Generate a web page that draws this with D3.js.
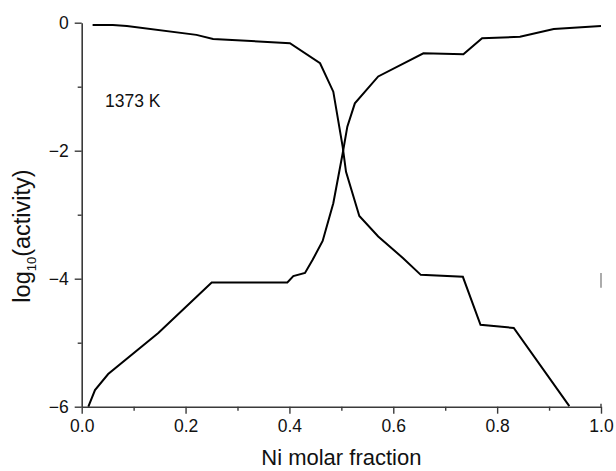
<!DOCTYPE html>
<html><head><meta charset="utf-8">
<script src="https://cdn.jsdelivr.net/npm/d3@7"></script>
<style>
html,body{margin:0;padding:0;background:#fff;}
svg{display:block;font-family:Arial,"Liberation Sans",sans-serif;}
</style></head>
<body>
<svg id="chart" width="616" height="471"></svg>
<script>
// Ni-rich curve (decreasing from 0)
const curveA_x = [0.021,0.060,0.087,0.221,0.253,0.401,0.459,0.4845,0.5026,0.509,0.5346,0.571,0.619,0.653,0.734,0.768,0.832,0.939];
const curveA_y = [-0.036,-0.036,-0.05,-0.19,-0.255,-0.32,-0.634,-1.078,-1.94,-2.33,-3.02,-3.34,-3.68,-3.94,-3.97,-4.72,-4.77,-5.99];
// increasing curve
const curveB_x = [0.0128,0.0256,0.051,0.1475,0.2503,0.396,0.4075,0.43,0.445,0.464,0.4845,0.5026,0.5115,0.526,0.571,0.658,0.735,0.771,0.844,0.909,1.0];
const curveB_y = [-6.0,-5.74,-5.49,-4.85,-4.06,-4.06,-3.96,-3.91,-3.70,-3.41,-2.82,-2.04,-1.625,-1.26,-0.84,-0.478,-0.494,-0.244,-0.219,-0.098,-0.05];
const xTicks = [0,0.2,0.4,0.6,0.8,1.0];
const xMinor = [0.1,0.3,0.5,0.7,0.9];
const yTicks = [0,-2,-4,-6];
const yMinor = [-1,-3,-5];
const stubX = [1.0,1.0];
const stubY = [-3.91,-4.14];
const annotation = "1373 K";
const xTitle = "Ni molar fraction";

const svg = d3.select("#chart");
const x = d3.scaleLinear().domain([0,1]).range([81.7,601]);
const y = d3.scaleLinear().domain([-6,0]).range([406.7,22.7]);
const axisColor = "#3a3a3a";

// x axis
const gx = svg.append("g").attr("transform",`translate(0,${y(-6)})`);
gx.call(d3.axisBottom(x).tickValues(xTicks).tickFormat(d3.format(".1f")).tickSize(7).tickPadding(6).tickSizeOuter(0));
gx.append("g").call(d3.axisBottom(x).tickValues(xMinor).tickFormat("").tickSize(4).tickSizeOuter(0))
  .select(".domain").remove();
// y axis
const gy = svg.append("g").attr("transform",`translate(${x(0)},0)`);
gy.call(d3.axisLeft(y).tickValues(yTicks).tickFormat(d3.format("d")).tickSize(7).tickPadding(6).tickSizeOuter(0));
gy.append("g").call(d3.axisLeft(y).tickValues(yMinor).tickFormat("").tickSize(4).tickSizeOuter(0))
  .select(".domain").remove();

svg.selectAll(".domain").attr("stroke",axisColor).attr("stroke-width",1.6);
svg.selectAll(".tick line").attr("stroke",axisColor).attr("stroke-width",1.4);
svg.selectAll(".tick text").attr("fill","#111").style("font-size","17.5px").style("font-family","Arial,'Liberation Sans',sans-serif");
gy.selectAll(".tick text").attr("dy","0.34em");

// small right stub at x=1
svg.append("line").attr("x1",x(1)).attr("x2",x(1)).attr("y1",y(-6)).attr("y2",y(-6)-3)
  .attr("stroke",axisColor).attr("stroke-width",1.4);
svg.append("path").datum(d3.zip(stubX,stubY))
  .attr("d",d3.line().x(d=>x(d[0])).y(d=>y(d[1])))
  .attr("stroke","#888").attr("stroke-width",1.4).attr("fill","none");

const line = d3.line().x(d=>x(d[0])).y(d=>y(d[1]));
[d3.zip(curveA_x,curveA_y), d3.zip(curveB_x,curveB_y)].forEach(pts=>{
  svg.append("path").datum(pts).attr("d",line)
    .attr("fill","none").attr("stroke","#000").attr("stroke-width",2).attr("stroke-linejoin","miter");
});

// annotation
svg.append("text").attr("x",105).attr("y",106.7).text(annotation)
  .style("font-size","17.5px").attr("fill","#111");

// x title
svg.append("text").attr("x",(x(0)+x(1))/2).attr("y",465).attr("text-anchor","middle")
  .style("font-size","22px").attr("fill","#111").text(xTitle);

// y title
const yt = svg.append("text").attr("transform","translate(29.5,236) rotate(-90)")
  .attr("text-anchor","middle").style("font-size","23.5px").attr("fill","#111");
yt.append("tspan").text("log");
yt.append("tspan").attr("dy","6").style("font-size","13px").text("10");
yt.append("tspan").attr("dy","-6").text("(activity)");
</script>
</body></html>
